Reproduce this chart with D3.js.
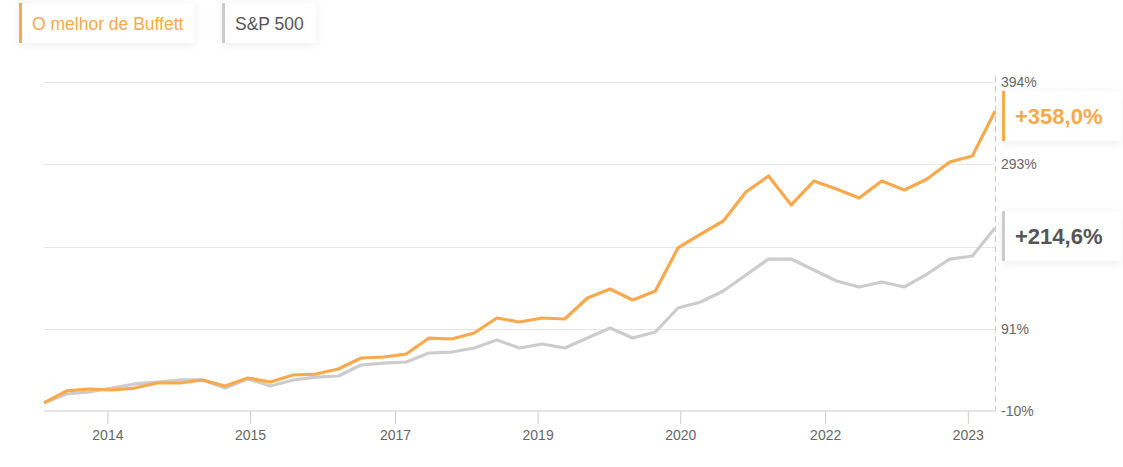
<!DOCTYPE html>
<html>
<head>
<meta charset="utf-8">
<script src="https://cdn.jsdelivr.net/npm/d3@7"></script>
<style>
  body { margin: 0; background: #fff; font-family: "Liberation Sans", Arial, sans-serif; }
  svg { display: block; }
</style>
</head>
<body>
<svg id="chart"></svg>
<script>
// series, quarterly points (cumulative return, %)
var buffett = [0, 14.6, 17.0, 15.8, 18.2, 24.4, 24.4, 28.1, 20.7, 30.5,
               25.6, 34.2, 35.4, 41.6, 55.1, 56.3, 60.0, 79.6, 78.4, 85.8,
               104.2, 99.3, 104.2, 103.0, 128.8, 139.8, 126.3, 137.4, 190.2, 207.3,
               223.3, 258.9, 278.6, 243.0, 272.4, 262.6, 251.5, 272.4, 261.4, 274.9,
               295.7, 303.1, 358.0];
var sp500   = [0, 10.9, 13.3, 18.2, 23.2, 25.6, 28.1, 28.1, 18.2, 29.3,
               20.7, 28.1, 31.7, 33.0, 46.5, 48.9, 50.2, 61.2, 62.4, 67.4,
               77.2, 67.4, 72.3, 67.4, 79.6, 91.9, 79.6, 87.0, 116.5, 123.8,
               137.3, 157.0, 176.6, 176.6, 163.1, 149.6, 142.3, 148.4, 142.3, 158.2,
               176.6, 180.3, 214.6];
var seriesNames  = ["O melhor de Buffett", "S&P 500"];
var finalLabels  = ["+358,0%", "+214,6%"];
var yTicks       = [-10, 91, 192, 293, 394];
var yLabelTicks  = [-10, 91, 293, 394];   // 192% sits under the S&P badge
var xTickIndex   = [2.8, 9.1, 15.5, 21.8, 28.1, 34.5, 40.8];
var xTickLabels  = ["2014", "2015", "2017", "2019", "2020", "2022", "2023"];

var width = 1123, height = 467;
var margin = {left: 44, right: 127, top: 82, bottom: 56};
var colors = ["#f7a94b", "#cccccc"];
var font = "'Liberation Sans', Arial, sans-serif";

var svg = d3.select("#chart").attr("width", width).attr("height", height);

var defs = svg.append("defs");
var shadow = defs.append("filter").attr("id", "shadow")
    .attr("x", "-20%").attr("y", "-40%").attr("width", "140%").attr("height", "180%");
shadow.append("feDropShadow").attr("dx", 0).attr("dy", 2).attr("stdDeviation", 5)
    .attr("flood-color", "#000").attr("flood-opacity", 0.07);

var x = d3.scaleLinear()
    .domain([0, buffett.length - 1])
    .range([margin.left, width - margin.right - 1]);
var y = d3.scaleLinear()
    .domain([-10, 394])
    .range([height - margin.bottom, margin.top]);

// horizontal grid
svg.append("g")
  .selectAll("line")
  .data(yTicks.slice(1))
  .enter().append("line")
    .attr("x1", margin.left).attr("x2", x.range()[1])
    .attr("y1", function (d) { return Math.round(y(d)) + 0.5; })
    .attr("y2", function (d) { return Math.round(y(d)) + 0.5; })
    .attr("stroke", "#e6e6e6");

// x axis
var xAxis = svg.append("g")
    .attr("transform", "translate(0," + Math.round(y(-10)) + ")")
    .call(d3.axisBottom(x)
            .tickValues(xTickIndex)
            .tickFormat(function (d, i) { return xTickLabels[i]; })
            .tickSize(13)
            .tickPadding(6));
xAxis.select(".domain").attr("stroke", "#e6e6e6").attr("stroke-width", 2)
    .attr("d", "M" + margin.left + ",0H" + x.range()[1]);
xAxis.selectAll(".tick line").attr("stroke", "#cccccc");
xAxis.selectAll(".tick text")
    .attr("fill", "#666").attr("font-size", 14)
    .attr("font-family", font);

// dashed right edge
svg.append("line")
    .attr("x1", x.range()[1] + 0.5).attr("x2", x.range()[1] + 0.5)
    .attr("y1", y(394) - 6).attr("y2", y(-10))
    .attr("stroke", "#c8c8c8")
    .attr("stroke-dasharray", "6,4");

// right y labels
var yAxis = svg.append("g")
    .attr("transform", "translate(" + (x.range()[1]) + ",0)")
    .call(d3.axisRight(y)
            .tickValues(yLabelTicks)
            .tickFormat(function (d) { return d + "%"; })
            .tickSize(0)
            .tickPadding(6));
yAxis.select(".domain").remove();
yAxis.selectAll(".tick text")
    .attr("fill", "#666").attr("font-size", 14)
    .attr("font-family", font);

// lines: S&P first so Buffett sits on top
var line = d3.line()
    .x(function (d, i) { return x(i); })
    .y(function (d) { return y(d); });

[sp500, buffett].forEach(function (s, k) {
  svg.append("path")
      .datum(s)
      .attr("fill", "none")
      .attr("stroke", k === 0 ? colors[1] : colors[0])
      .attr("stroke-width", 3.2)
      .attr("stroke-linejoin", "round")
      .attr("d", line);
});

// end badges
var badgeTops = [91, 211];
finalLabels.forEach(function (t, i) {
  var g = svg.append("g").attr("transform", "translate(1002," + badgeTops[i] + ")");
  g.append("rect").attr("width", 120).attr("height", 50).attr("fill", "#fff")
      .attr("filter", "url(#shadow)");
  g.append("rect").attr("width", 3).attr("height", 50).attr("fill", colors[i]);
  g.append("text")
      .attr("x", 13).attr("y", 33)
      .attr("font-size", 22).attr("font-weight", "bold")
      .attr("fill", i === 0 ? colors[0] : "#555")
      .text(t);
});

// legend
var legendX = [19, 222], legendW = [175, 94];
seriesNames.forEach(function (n, i) {
  var g = svg.append("g").attr("transform", "translate(" + legendX[i] + ",3)");
  g.append("rect").attr("width", legendW[i]).attr("height", 40).attr("fill", "#fff")
      .attr("filter", "url(#shadow)");
  g.append("rect").attr("width", 3).attr("height", 40).attr("fill", colors[i]);
  g.append("text")
      .attr("x", 13).attr("y", 26.5)
      .attr("font-size", 17.5)
      .attr("fill", i === 0 ? colors[0] : "#555")
      .text(n);
});
</script>
</body>
</html>
